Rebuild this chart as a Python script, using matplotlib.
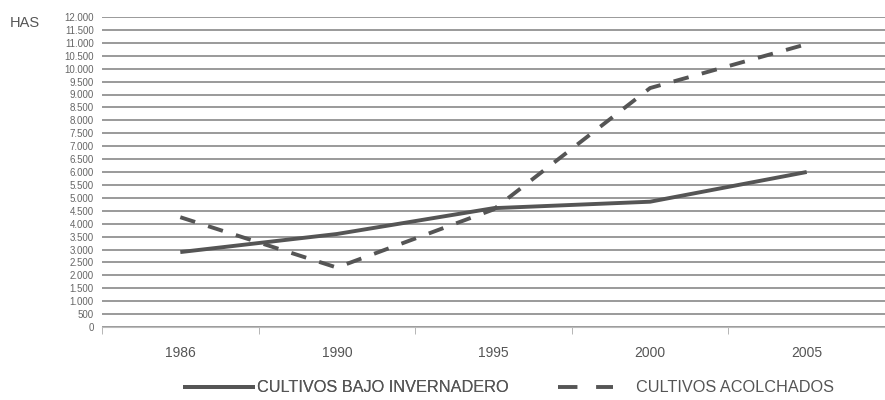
import numpy as np
import matplotlib.pyplot as plt
from matplotlib.ticker import FuncFormatter, MultipleLocator

plt.rcParams['font.family'] = ['Liberation Sans', 'DejaVu Sans']

years = ['1986', '1990', '1995', '2000', '2005']
invernadero = [2900, 3600, 4600, 4850, 6000]   # solid line
acolchados = [4250, 2300, 4550, 9250, 10950]   # dashed line

fig = plt.figure(figsize=(8.85, 4), dpi=100)
ax = fig.add_axes([102 / 885, 1 - 327 / 400, 783 / 885, 310 / 400])

x = np.arange(len(years))
l1, = ax.plot(x, invernadero, color='#555555', lw=2.8, solid_capstyle='butt')
l2, = ax.plot(x, acolchados, color='#555555', lw=2.8, dashes=(4, 3.5))

ax.set_xlim(-0.5, 4.5)
ax.set_ylim(0, 12000)
ax.yaxis.set_major_locator(MultipleLocator(500))
ax.yaxis.set_major_formatter(
    FuncFormatter(lambda v, p: '{:,.0f}'.format(v).replace(',', '.')))
ax.grid(axis='y', color='#9a9a9a', lw=1.4)
ax.set_axisbelow(True)

ax.set_xticks(x)
ax.set_xticklabels(years)
ax.set_xticks(np.arange(-0.5, 5, 1), minor=True)
ax.tick_params(axis='x', which='major', length=0, pad=14, labelsize=10,
               colors='#555555')
ax.tick_params(axis='x', which='minor', length=5, color='#aaaaaa')
ax.tick_params(axis='y', length=0, pad=6, labelsize=7, colors='#666666')

for s in ['top', 'right', 'left']:
    ax.spines[s].set_visible(False)
ax.spines['bottom'].set_color('#bbbbbb')
ax.spines['bottom'].set_linestyle((0, (2, 1)))

fig.text(10 / 885, 1 - 23 / 400, 'HAS', fontsize=10.5, color='#555555',
         va='center')

# two separate legends so each handle can have its own length
leg1 = fig.legend([l1], ['CULTIVOS BAJO INVERNADERO'], loc='center left',
                  bbox_to_anchor=(183 / 885, 1 - 388 / 400), frameon=False,
                  fontsize=11.7, handlelength=4.4, handletextpad=0.15,
                  borderpad=0, borderaxespad=0, labelcolor='#555555')
leg2 = fig.legend([l2], ['CULTIVOS ACOLCHADOS'], loc='center left',
                  bbox_to_anchor=(558 / 885, 1 - 388 / 400), frameon=False,
                  fontsize=11.7, handlelength=3.4, handletextpad=1.4,
                  borderpad=0, borderaxespad=0, labelcolor='#555555')
fig.add_artist(leg1)
leg2.get_lines()[0].set_dashes((5, 4.8))

fig.savefig('out.png', dpi=100)
